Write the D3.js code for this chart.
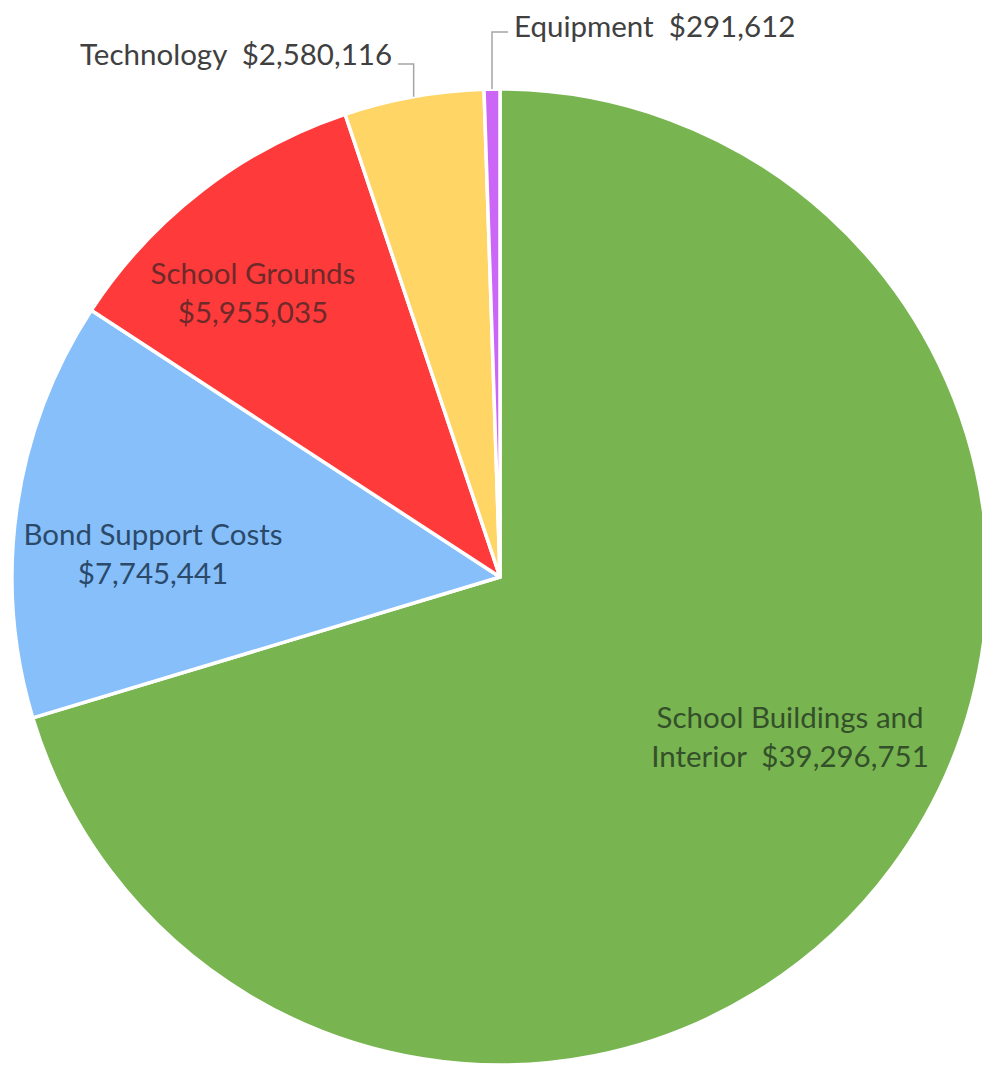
<!DOCTYPE html>
<html>
<head>
<meta charset="utf-8">
<script src="https://cdn.jsdelivr.net/npm/d3@7"></script>
<style>
  html, body { margin: 0; padding: 0; background: #ffffff; }
  svg { display: block; }
  text { font-family: Lato, "Open Sans", sans-serif; white-space: pre; }
</style>
</head>
<body>
<svg id="chart" width="982" height="1066"></svg>
<script>
// ---- data ----
const categories = ["School Buildings and Interior", "Bond Support Costs", "School Grounds", "Technology", "Equipment"];
const values = [39296751, 7745441, 5955035, 2580116, 291612];
const colors = ["#78b550", "#86bffa", "#ff3a3b", "#ffd566", "#cc66f7"];
const labelColors = ["#34502a", "#2b4a6a", "#6e2a2a", "#404040", "#404040"];

// ---- layout ----
const W = 982, H = 1066;
const cx = 500, cy = 577, R = 488;
const fmt = v => "$" + d3.format(",")(v);

// label placement (text lines, anchor position, line spacing)
const labelLayout = [
  { lines: ["School Buildings and", "Interior  " + fmt(values[0])], x: 790, y: 716, anchor: "middle" },
  { lines: ["Bond Support Costs", fmt(values[1])], x: 153, y: 533, anchor: "middle" },
  { lines: ["School Grounds", fmt(values[2])], x: 253, y: 272, anchor: "middle" },
  { lines: ["Technology  " + fmt(values[3])], x: 392, y: 53, anchor: "end", leader: { ex: 398, ey: 64 } },
  { lines: ["Equipment  " + fmt(values[4])], x: 514, y: 25, anchor: "start", leader: { ex: 508, ey: 32 } }
];

const svg = d3.select("#chart");
const g = svg.append("g").attr("transform", `translate(${cx},${cy})`);

const pie = d3.pie().sort(null).value(d => d.value).startAngle(0).endAngle(2 * Math.PI);
const data = categories.map((c, i) => ({ name: c, value: values[i], i }));
const arcs = pie(data);
const arc = d3.arc().innerRadius(0).outerRadius(R);

g.selectAll("path.slice")
  .data(arcs)
  .join("path")
  .attr("class", "slice")
  .attr("d", arc)
  .attr("fill", d => colors[d.data.i])
  .attr("stroke", "#ffffff")
  .attr("stroke-width", 3.5)
  .attr("stroke-linejoin", "round");

// leader lines for outside labels
arcs.forEach(a => {
  const L = labelLayout[a.data.i];
  if (!L.leader) return;
  const mid = (a.startAngle + a.endAngle) / 2;
  const px = cx + R * Math.sin(mid);
  const py = cy - R * Math.cos(mid);
  svg.append("path")
    .attr("d", `M${L.leader.ex},${L.leader.ey} H${px} V${py}`)
    .attr("fill", "none")
    .attr("stroke", "#a6a6a6")
    .attr("stroke-width", 1.5);
});

// labels
const fontSize = 29.5, lineH = 39;
labelLayout.forEach((L, i) => {
  const t = svg.append("text")
    .attr("x", L.x)
    .attr("y", L.y)
    .attr("text-anchor", L.anchor)
    .attr("dominant-baseline", "central")
    .attr("font-size", fontSize)
    .attr("fill", labelColors[i]);
  L.lines.forEach((ln, k) => {
    t.append("tspan").attr("x", L.x).attr("y", L.y + k * lineH).text(ln);
  });
});
</script>
</body>
</html>
